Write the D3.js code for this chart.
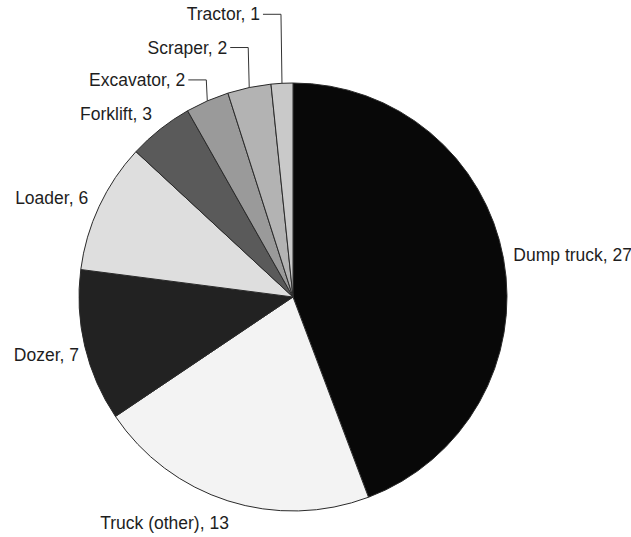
<!DOCTYPE html>
<html>
<head>
<meta charset="utf-8">
<script src="https://cdn.jsdelivr.net/npm/d3@7"></script>
<style>
  html, body { margin: 0; padding: 0; background: #fff; }
  svg { display: block; }
  text { font-family: "Liberation Sans", Arial, sans-serif; font-size: 17.5px; fill: #1e1e1e; }
</style>
</head>
<body>
<svg id="chart" width="631" height="537"></svg>
<script>
// Data (clockwise from 12 o'clock)
const categories = ["Dump truck", "Truck (other)", "Dozer", "Loader", "Forklift", "Excavator", "Scraper", "Tractor"];
const values = [27, 13, 7, 6, 3, 2, 2, 1];
const colors = ["#080808", "#f3f3f3", "#222222", "#dedede", "#5a5a5a", "#9a9a9a", "#b3b3b3", "#c9c9c9"];
// Slices whose labels are lifted above the pie with a leader line (lift in px)
const leaderLift = { "Excavator": 21, "Scraper": 40, "Tractor": 69 };

const W = 631, H = 537;
const cx = 293, cy = 297, R = 214;

const svg = d3.select("#chart");
const g = svg.append("g").attr("transform", `translate(${cx},${cy})`);

const data = categories.map((c, i) => ({ name: c, value: values[i], color: colors[i] }));
const pie = d3.pie().value(d => d.value).sort(null).startAngle(0).endAngle(2 * Math.PI);
const arcs = pie(data);
const arc = d3.arc().innerRadius(0).outerRadius(R);

g.selectAll("path.slice")
  .data(arcs)
  .enter().append("path")
  .attr("class", "slice")
  .attr("d", arc)
  .attr("fill", d => d.data.color)
  .attr("stroke", "#2a2a2a")
  .attr("stroke-width", 1);

const labelG = g.append("g");
const halfH = 9;
arcs.forEach(a => {
  const mid = (a.startAngle + a.endAngle) / 2;
  const s = Math.sin(mid), c = Math.cos(mid);
  const text = `${a.data.name}, ${a.data.value}`;
  if (leaderLift[a.data.name] !== undefined) {
    const ex = R * s, ey = -R * c;
    const ly = ey - leaderLift[a.data.name];
    const tx = ex - 22;
    labelG.append("path")
      .attr("d", `M${tx + 3},${ly} L${ex - 1},${ly} L${ex},${ey}`)
      .attr("fill", "none")
      .attr("stroke", "#333")
      .attr("stroke-width", 1);
    labelG.append("text")
      .attr("x", tx)
      .attr("y", ly)
      .attr("dy", "0.35em")
      .attr("text-anchor", "end")
      .text(text);
  } else {
    const rr = R + 10;
    const px = rr * s, py = -rr * c;
    const yc = py + (c < 0 ? halfH : -halfH) * Math.abs(c) + (c < 0 ? 4 : 0);
    const xoff = s >= 0 ? 0 : (c < 0 ? 4 : -2);
    labelG.append("text")
      .attr("x", px + xoff)
      .attr("y", yc)
      .attr("dy", "0.35em")
      .attr("text-anchor", s >= 0 ? "start" : "end")
      .text(text);
  }
});
</script>
</body>
</html>
